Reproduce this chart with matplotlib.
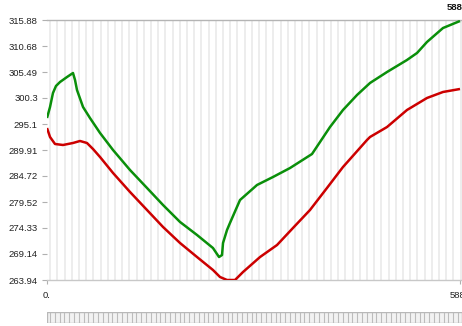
import numpy as np
import matplotlib
matplotlib.use("Agg")
import matplotlib.pyplot as plt
from matplotlib.patches import Rectangle

# ---- data ----
green_x = [0, 43, 85, 128, 185, 285, 370, 399, 427, 513, 612, 755, 940, 1182, 1424,
           1652, 1894, 2136, 2363, 2449, 2492, 2506, 2563, 2605, 2748, 2990, 3218,
           3460, 3773, 3887, 4029, 4214, 4414, 4599, 4841, 5125, 5268, 5410, 5638, 5880]
green_y = [296.30, 298.50, 301.30, 302.70, 303.49, 304.49, 305.29, 303.89, 301.90,
           298.50, 296.30, 293.31, 289.91, 285.91, 282.32, 278.92, 275.53, 272.93,
           270.33, 268.53, 268.93, 271.33, 273.93, 275.33, 279.92, 282.92, 284.52,
           286.31, 289.11, 291.51, 294.50, 297.90, 300.90, 303.30, 305.49, 307.89,
           309.29, 311.49, 314.28, 315.68]

red_x = [0, 43, 114, 228, 370, 470, 569, 655, 755, 940, 1182, 1424, 1652, 1894, 2136,
         2363, 2463, 2563, 2677, 2791, 3033, 3275, 3502, 3744, 3986, 4214, 4556, 4599,
         4841, 5125, 5410, 5638, 5880]
red_y = [294.30, 292.51, 291.11, 290.91, 291.31, 291.71, 291.31, 290.11, 288.51,
         285.32, 281.52, 277.92, 274.53, 271.33, 268.53, 265.94, 264.54, 263.94,
         263.94, 265.54, 268.53, 270.93, 274.33, 277.92, 282.32, 286.51, 291.91,
         292.51, 294.50, 297.90, 300.30, 301.50, 302.10]

y_ticks = [263.94, 269.14, 274.33, 279.52, 284.72, 289.91, 295.1, 300.3, 305.49, 310.68, 315.88]
y_labels = ["263.94", "269.14", "274.33", "279.52", "284.72", "289.91", "295.1",
            "300.3", "305.49", "310.68", "315.88"]
x_ticks = [0, 5880]
x_labels = ["0.", "5880"]

W, H = 462, 326
fig = plt.figure(figsize=(W / 100, H / 100), dpi=100)
plt.rcParams['font.family'] = ['Liberation Sans', 'DejaVu Sans']

left_px, right_px, top_px, bot_px = 47, 462, 20, 280
ax = fig.add_axes([left_px / W, 1 - bot_px / H, (right_px - left_px) / W, (bot_px - top_px) / H])
xmax = 5880 * (right_px - left_px) / (460 - left_px)
ax.set_xlim(0, xmax)
ax.set_ylim(263.94, 315.88)

# vertical stripes
for xs in np.arange(45, xmax, 102.5):
    ax.axvline(xs, color="#ececec", lw=1.3, zorder=0)

ax.plot(green_x, green_y, color="#0a8f0a", lw=1.8, solid_capstyle="butt", zorder=3)
ax.plot(red_x, red_y, color="#cc0000", lw=1.8, solid_capstyle="butt", zorder=3)

for s in ["left", "right"]:
    ax.spines[s].set_visible(False)
ax.spines["top"].set_color("#b4b4b4")
ax.spines["top"].set_linewidth(1.0)
ax.spines["bottom"].set_color("#c8c8c8")
ax.spines["bottom"].set_linewidth(1.0)
ax.spines["bottom"].set_linestyle((0, (3, 1)))

ax.set_yticks(y_ticks)
ax.set_yticklabels(y_labels)
ax.set_xticks(x_ticks)
ax.set_xticklabels(x_labels)
ax.tick_params(axis="y", length=3.6, width=0.8, color="#b0b0b0", pad=3,
               labelsize=6.8, labelcolor="#222222")
ax.tick_params(axis="x", length=3, width=0.8, color="#b0b0b0", pad=5,
               labelsize=6.8, labelcolor="#222222")

fig.text(447 / W, 1 - 7 / H, "5880", fontsize=6.8, color="#111111",
         ha="left", va="center", fontweight="bold")

# scrollbar at bottom
sb = fig.add_axes([left_px / W, 1 - 323 / H, (right_px - left_px) / W, 11 / H])
sb.set_xlim(0, right_px - left_px)
sb.set_ylim(0, 1)
sb.axis("off")
sb.add_patch(Rectangle((0, 0), right_px - left_px, 1, facecolor="#f2f2f2",
                       edgecolor="#b8b8b8", lw=1.0))
for xs in np.arange(3, right_px - left_px, 4.8):
    sb.plot([xs, xs], [0.12, 0.88], color="#bcbcbc", lw=0.8)

fig.savefig("out.png", dpi=100)
